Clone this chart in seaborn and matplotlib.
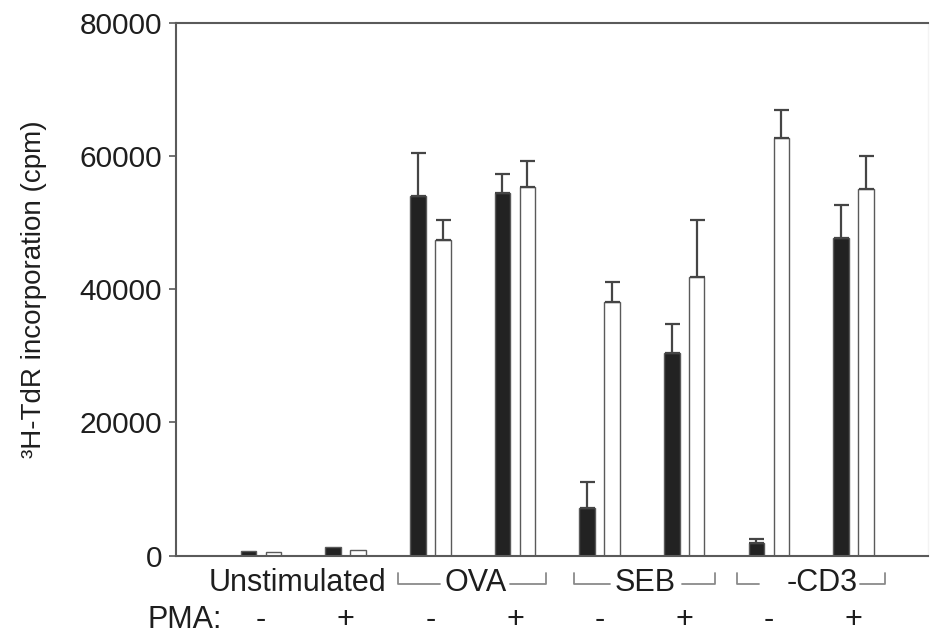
import numpy as np
import pandas as pd
import matplotlib
matplotlib.use("Agg")
import matplotlib.pyplot as plt
import matplotlib.transforms as mtransforms
import seaborn as sns

# data
conditions = ["Unstimulated -", "Unstimulated +", "OVA -", "OVA +",
              "SEB -", "SEB +", "CD3 -", "CD3 +"]
pma_labels = ["-", "+", "-", "+", "-", "+", "-", "+"]
black_vals = [750, 1300, 53900, 54400, 7200, 30400, 1850, 47700]
black_err = [0, 0, 6500, 2900, 3850, 4350, 600, 4850]
white_vals = [550, 850, 47400, 55300, 38000, 41800, 62700, 55000]
white_err = [0, 0, 2950, 3850, 3100, 8600, 4150, 4950]
series = ["black", "white"]

df = pd.DataFrame({
    "cond": conditions * 2,
    "series": [series[0]] * 8 + [series[1]] * 8,
    "cpm": black_vals + white_vals,
    "err": black_err + white_err,
})

sns.set_style("white")
plt.rcParams["font.family"] = ["Liberation Sans", "DejaVu Sans"]
txt = "#1e1e1e"
grey = "#5a5a5a"

fig = plt.figure(figsize=(9.34, 6.38), dpi=100)
ax = fig.add_axes([0.1884, 0.1290, 0.8052, 0.8357])

sns.barplot(df, x="cond", y="cpm", hue="series", order=conditions,
            hue_order=series, palette={"black": "#222222", "white": "white"},
            width=0.59, gap=0.38, errorbar=None, edgecolor=grey,
            linewidth=1.0, legend=False, ax=ax)

# upper error bars on every bar, from the bar geometry
for patch, (_, row) in zip(ax.patches, df.iterrows()):
    if row["err"] <= 0:
        continue
    xc = patch.get_x() + patch.get_width() / 2
    ax.errorbar(xc, patch.get_height(), yerr=[[0], [row["err"]]],
                fmt="none", ecolor="#454545", elinewidth=1.6,
                capsize=5.4, capthick=1.6, zorder=1)

ax.set_xlim(-1.005, 7.88)
ax.set_ylim(0, 80000)
ax.set_yticks([0, 20000, 40000, 60000, 80000])
ax.set_yticklabels(["0", "20000", "40000", "60000", "80000"])
ax.set_xticks([])
ax.set_xlabel("")
ax.tick_params(axis="y", which="both", left=True, length=5, width=1.2,
               color=grey, pad=5, labelsize=21.5, labelcolor=txt)

for side in ["left", "bottom", "top"]:
    ax.spines[side].set_color(grey)
    ax.spines[side].set_linewidth(1.5)
ax.spines["right"].set_color("#f3f3f3")
ax.spines["right"].set_linewidth(1.0)

ax.set_ylabel("³H-TdR incorporation (cpm)", fontsize=20, color=txt)
ax.yaxis.set_label_coords(-0.172, 0.5)

# labels under the axis: x in data units, y in figure fraction
trans = mtransforms.blended_transform_factory(ax.transData, fig.transFigure)
for i, lab in enumerate(pma_labels):
    ax.text(i, 0.028, lab, transform=trans, ha="center", va="center",
            fontsize=22, color=txt)
ax.text(-0.46, 0.028, "PMA:", transform=trans, ha="right", va="center",
        fontsize=22, color=txt)

ax.text(0.426, 0.0862, "Unstimulated", transform=trans, ha="center",
        va="center", fontsize=22, color=txt)

groups = [("OVA", 2.54, 1.62, 2.116, 2.943, 3.369),
          ("SEB", 4.54, 3.70, 4.125, 4.976, 5.366),
          ("-CD3", 6.63, 5.627, 5.887, 7.08, 7.376)]
y_hi, y_lo = 1 - 573 / 638, 1 - 584 / 638
for name, xt, l0, l1, r0, r1 in groups:
    ax.text(xt, 0.0862, name, transform=trans, ha="center", va="center",
            fontsize=22, color=txt)
    ax.plot([l0, l0, l1], [y_hi, y_lo, y_lo], transform=trans, color="#8a8a8a",
            lw=1.3, clip_on=False)
    ax.plot([r0, r1, r1], [y_lo, y_lo, y_hi], transform=trans, color="#8a8a8a",
            lw=1.3, clip_on=False)

fig.savefig("out.png", dpi=100)
